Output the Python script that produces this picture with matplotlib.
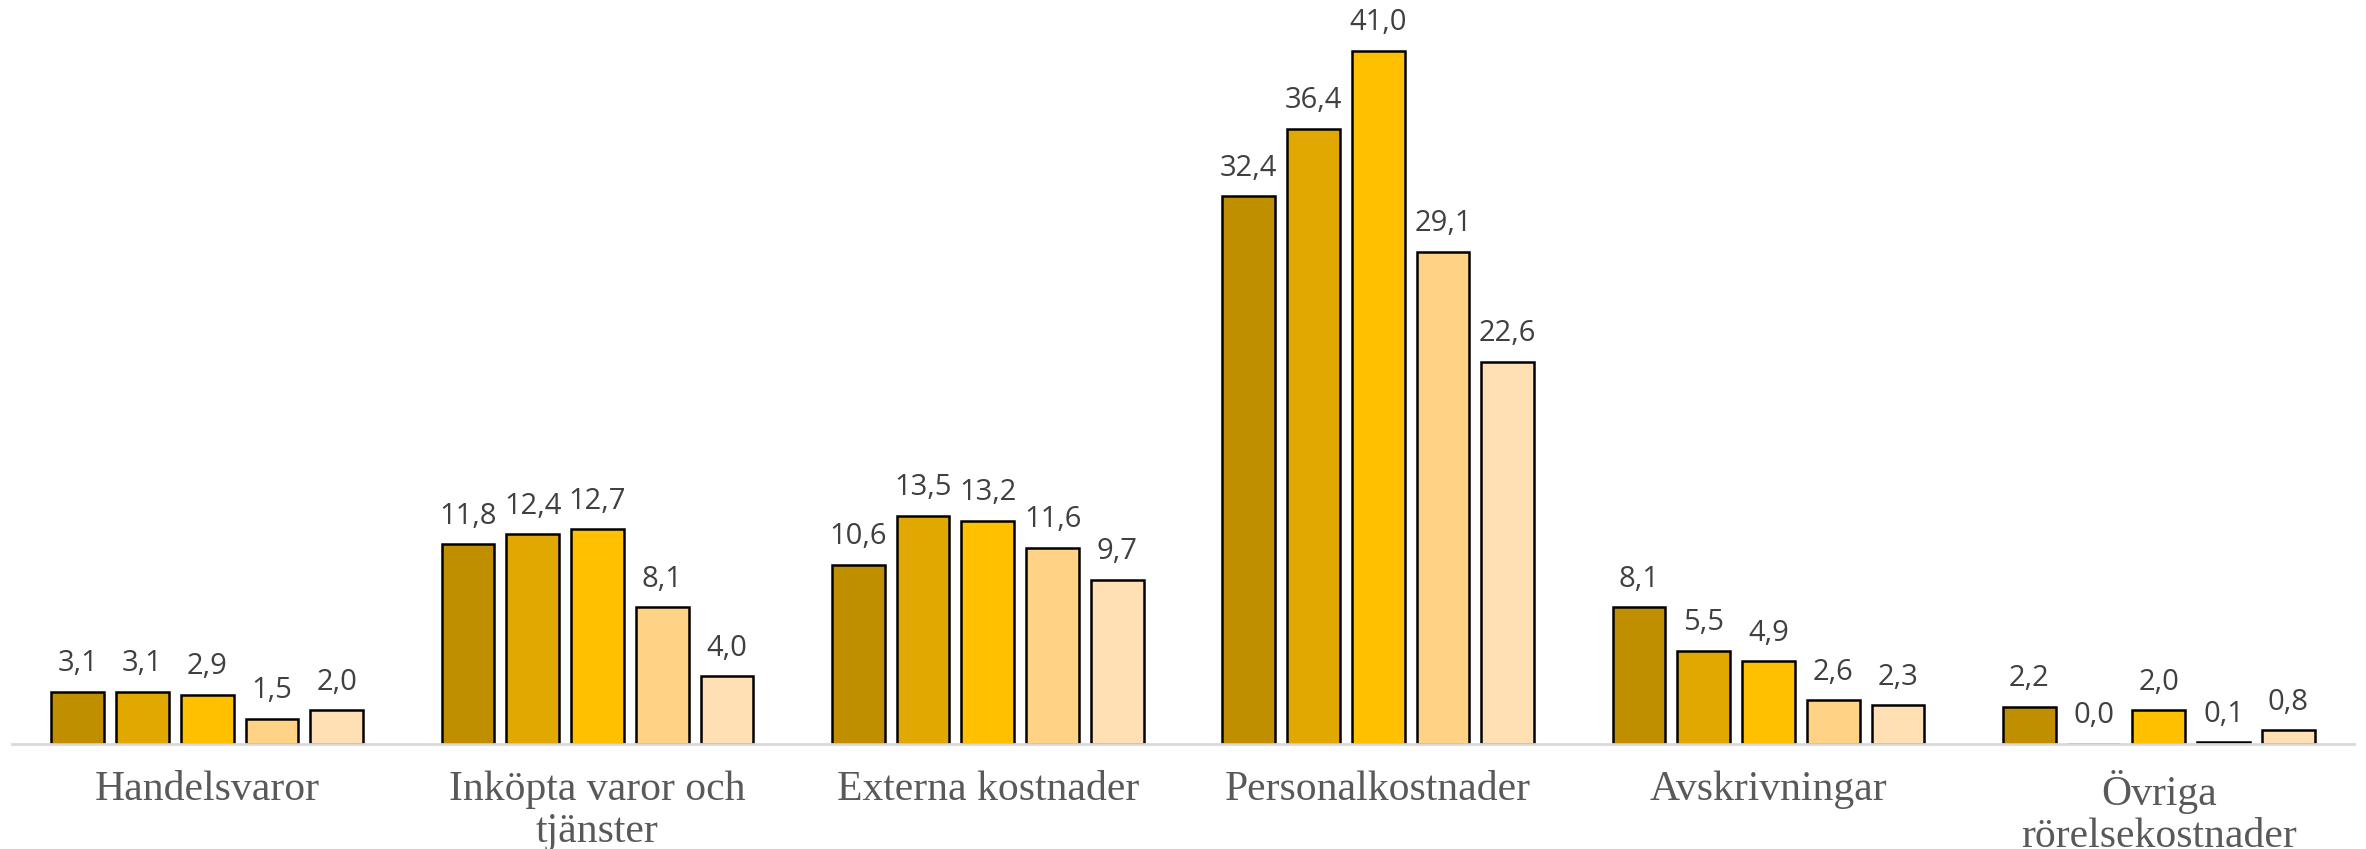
import matplotlib
matplotlib.use('Agg')
import matplotlib.pyplot as plt
import numpy as np

categories = ['Handelsvaror', 'Inköpta varor och\ntjänster', 'Externa kostnader',
              'Personalkostnader', 'Avskrivningar', 'Övriga\nrörelsekostnader']
s1 = [3.1, 11.8, 10.6, 32.4, 8.1, 2.2]
s2 = [3.1, 12.4, 13.5, 36.4, 5.5, 0.0]
s3 = [2.9, 12.7, 13.2, 41.0, 4.9, 2.0]
s4 = [1.5, 8.1, 11.6, 29.1, 2.6, 0.1]
s5 = [2.0, 4.0, 9.7, 22.6, 2.3, 0.8]
series = [s1, s2, s3, s4, s5]
colors = ['#BF8F00', '#E0A800', '#FFC000', '#FFD285', '#FFE0B4']

fig = plt.figure(figsize=(23.66, 8.49), dpi=100)
ax = fig.add_axes([12/2366, 1 - 744/849, 2342/2366, 744/849])

x = np.arange(len(categories))
w = 0.135
step = 0.166
for i, vals in enumerate(series):
    pos = x + (i - 2) * step
    bars = ax.bar(pos, vals, width=w, color=colors[i], edgecolor='black', linewidth=1.8)
    for p, v in zip(pos, vals):
        ax.text(p, v + 0.8, f'{v:.1f}'.replace('.', ','), ha='center', va='bottom',
                fontsize=21, color='#404040', family='Open Sans')

ax.set_xlim(-0.5, len(categories) - 0.5)
ax.set_ylim(0, 44)
ax.set_yticks([])
ax.set_xticks(x)
ax.set_xticklabels(categories, fontsize=30, color='#595959', family='Liberation Serif',
                   linespacing=1.12)
ax.tick_params(axis='x', length=0, pad=19)
for s in ['top', 'right', 'left']:
    ax.spines[s].set_visible(False)
ax.spines['bottom'].set_color('#D9D9D9')
ax.spines['bottom'].set_linewidth(2)

fig.savefig('out.png', dpi=100)
